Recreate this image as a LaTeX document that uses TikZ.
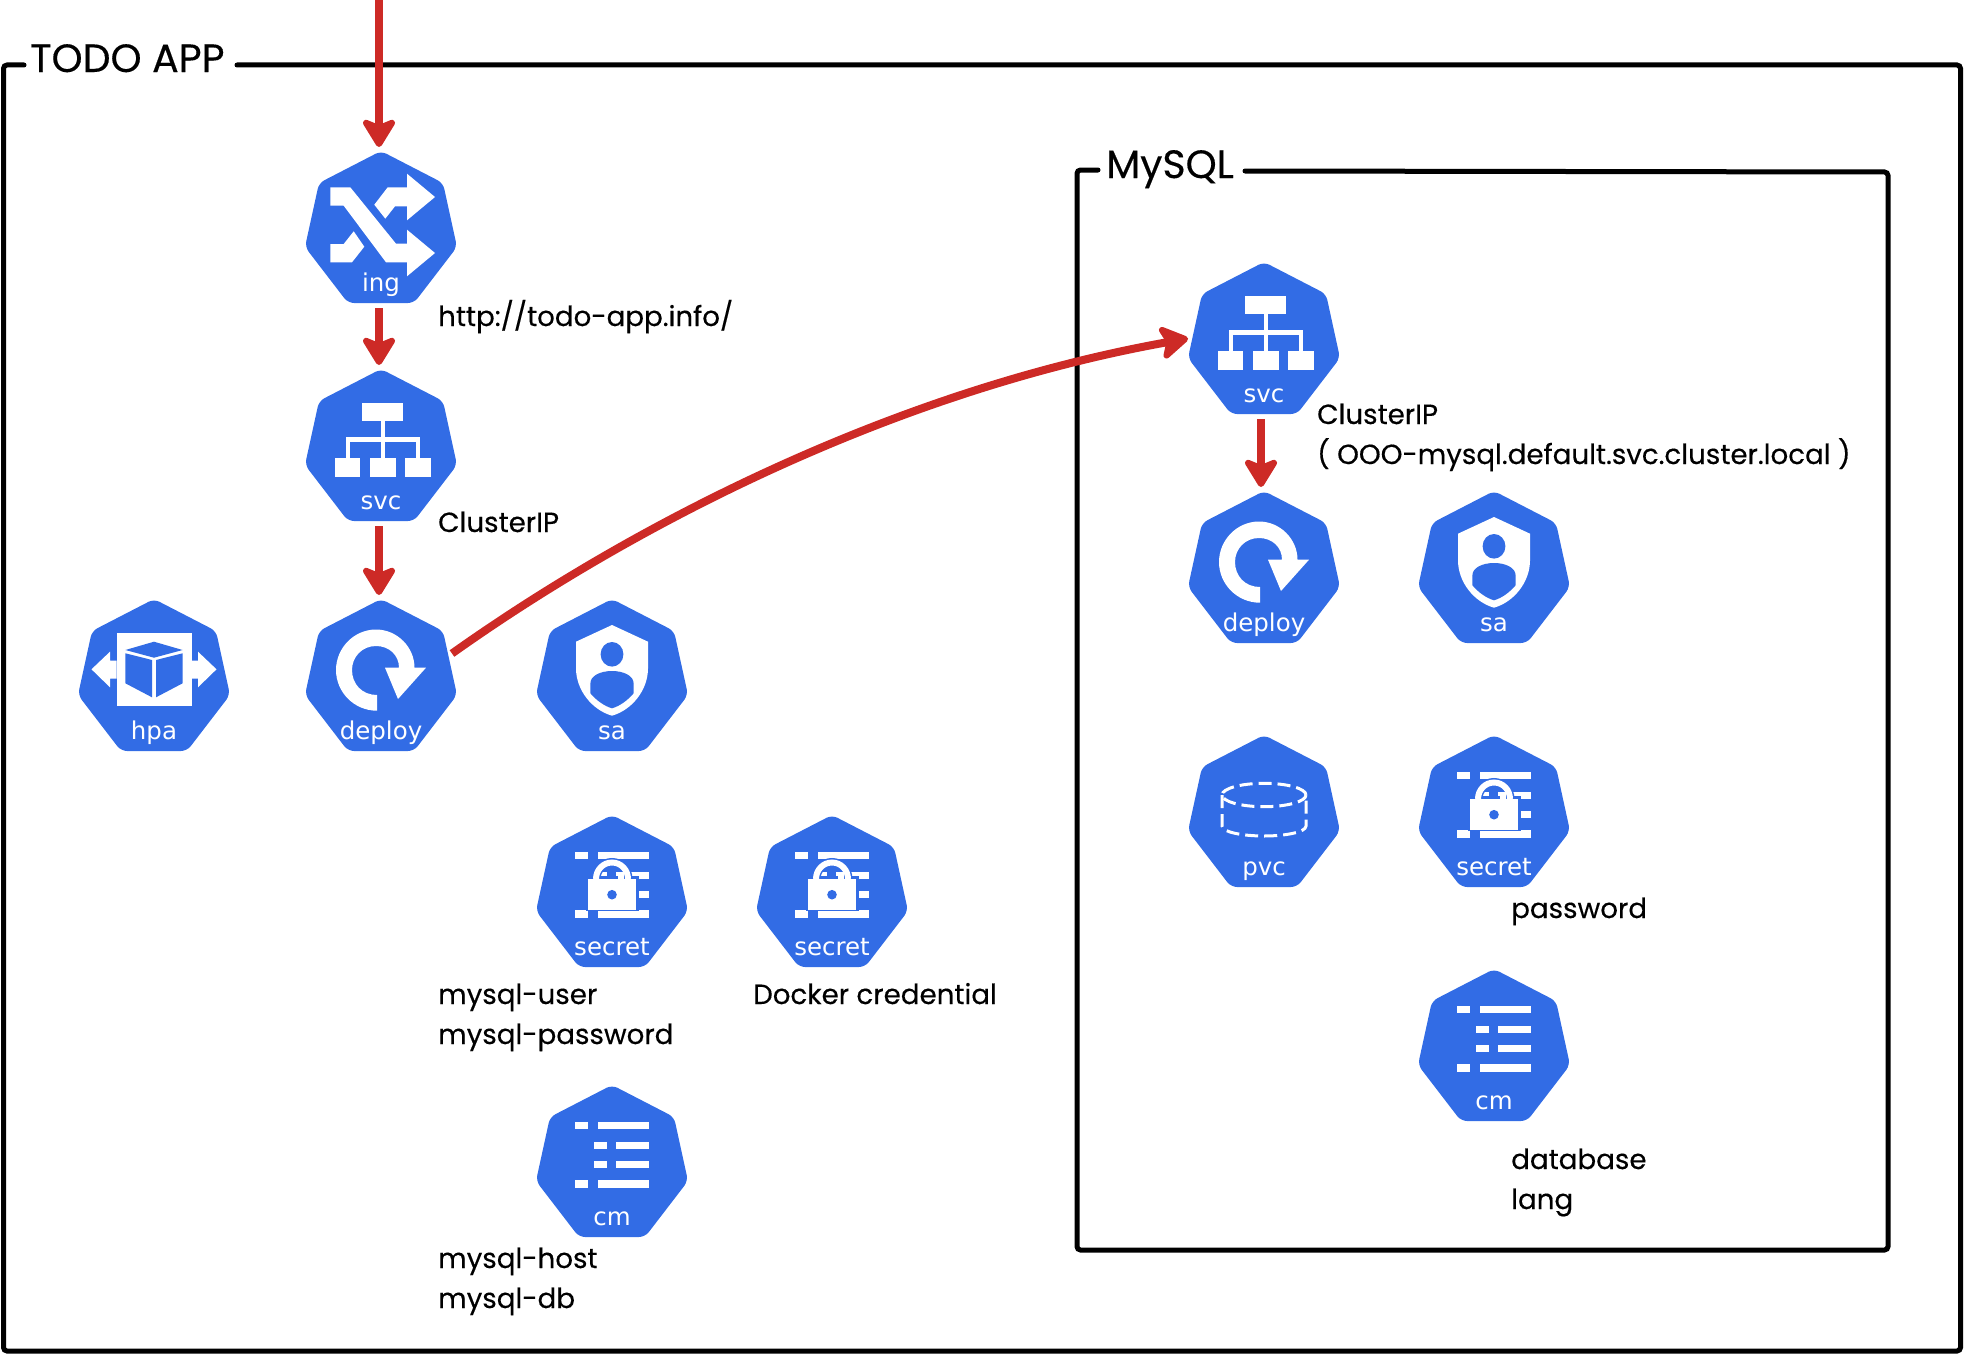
\documentclass[tikz,border=0pt]{standalone}
\usepackage{fontspec}
\setmainfont{Poppins}[FakeBold=0.35]
\newfontfamily\iconfont{DejaVu Sans}
\usetikzlibrary{arrows.meta}
\definecolor{kblue}{HTML}{326CE5}
\definecolor{flowred}{HTML}{CD2A26}
\tikzset{
  heptagon/.style={fill=kblue,rounded corners=6pt},
  iconbox/.style={minimum width=152pt,minimum height=151pt,inner sep=0pt,outer sep=0pt},
  iconlabel/.style={text=white,anchor=base,inner sep=0pt,font=\iconfont\fontsize{24.5}{24.5}\selectfont},
  frame/.style={draw=black,line width=5pt,rounded corners=3.5pt,line cap=round},
  flow/.style={draw=flowred,line width=8pt,-{Stealth[length=33pt,width=40pt,inset=8pt,round]},shorten >=5pt,shorten <=5pt},
  note/.style={anchor=base west,inner sep=0pt,align=left,font=\fontsize{27.7}{40}\selectfont},
  title/.style={anchor=base west,inner sep=0pt,font=\fontsize{39.5}{40}\selectfont},
}
\newcommand\glyphing{%
  \fill[white] (-50.7,35.3)--(-30.7,35.3)--(15,91.7)--(26,91.7)--(26,77.7)--(54,101)--(26,124.3)--(26,110.3)--(5,110.3)--(-37.3,53.7)--(-50.7,53.7)--cycle;
  \fill[white] (-6.7,52.7)--(6.7,35.3)--(26,35.3)--(26,21.7)--(54,45)--(26,68.3)--(26,54.3)--(14,54.3)--(4.3,66.7)--cycle;
  \fill[white] (-50.7,92)--(-37.3,92)--(-27.3,79.3)--(-16.7,94.7)--(-29,110.3)--(-50.7,110.3)--cycle;
}
\newcommand\glyphsvc{%
  \fill[white] (-19,33.3) rectangle (22,51.3);
  \fill[white] (0,51.3) rectangle (4.3,90);
  \fill[white] (-35,67.3) rectangle (39.3,71.7);
  \fill[white] (-35,67.3) rectangle (-31,90);
  \fill[white] (35,67.3) rectangle (39.3,90);
  \fill[white] (-46,88.3) rectangle (-20.7,106.7);
  \fill[white] (-11,88.3) rectangle (14.7,106.7);
  \fill[white] (24,88.3) rectangle (50,106.7);
}
\newcommand\glyphdeploy{%
  \fill[white] (-4,110.7) .. controls (-27,110.7) and (-45,92) .. (-45,70)
    .. controls (-45,48) and (-27,29.5) .. (-5,29.5)
    .. controls (16,29.5) and (33.5,47) .. (33.5,67.7)
    -- (45,67.7) -- (17,99) -- (4,67.7) -- (18,67.7)
    .. controls (18,55) and (8,46) .. (-5,46)
    .. controls (-19,46) and (-29,57) .. (-29,70)
    .. controls (-29,84) and (-19,95) .. (-4,95) -- cycle;
}
\newcommand\glyphhpa{%
  \fill[white] (-37.5,32.7) rectangle (37.5,106);
  \fill[white] (-37.5,60.7)--(-44,60.7)--(-44,51.7)--(-62.5,69.3)--(-44,87.3)--(-44,78.7)--(-37.5,78.7)--cycle;
  \fill[white] (37.5,60.7)--(44,60.7)--(44,51.7)--(62.5,69.3)--(44,87.3)--(44,78.7)--(37.5,78.7)--cycle;
  \fill[kblue] (0,41.7)--(28.6,50)--(0,57.7)--(-28.6,50)--cycle;
  \fill[kblue] (-28.6,53.3)--(-2,60)--(-2,97.3)--(-28.6,83.3)--cycle;
  \fill[kblue] (28.6,53.3)--(2,60)--(2,97.3)--(28.6,83.3)--cycle;
}
\newcommand\glyphsa{%
  \fill[white] (0,25)--(36,41.7)--(36,68.3) .. controls (36,90) and (20,110) .. (0,115.7)
    .. controls (-20,110) and (-36,90) .. (-36,68.3) -- (-36,41.7) -- cycle;
  \fill[kblue] (0,54.3) ellipse (11.4pt and 12.3pt);
  \fill[kblue] (0,71) .. controls (12,71) and (21.6,76) .. (21.6,83.3) -- (21.6,93.3)
    .. controls (16,100) and (8,106) .. (0,108.3)
    .. controls (-8,106) and (-16,100) .. (-21.6,93.3) -- (-21.6,83.3)
    .. controls (-21.6,76) and (-12,71) .. (0,71) -- cycle;
}
\newcommand\glyphrows{%
  \fill[white] (-36.7,36.3) rectangle (-23.7,43.3);
  \fill[white] (-14.3,36.3) rectangle (37.3,43.3);
  \fill[white] (-18,55.7) rectangle (-4.7,62.7);
  \fill[white] (4.3,55.7) rectangle (37.3,62.7);
  \fill[white] (-18,75) rectangle (-4.7,82);
  \fill[white] (4.3,75) rectangle (37.3,82);
  \fill[white] (-36.7,94.3) rectangle (-23.7,101.7);
  \fill[white] (-14.3,94.3) rectangle (37.3,101.7);
}
\newcommand\glyphsecret{%
  \glyphrows
  \fill[kblue] (-26,60) rectangle (26.5,95);
  \draw[kblue,line width=9pt] (-16,63) .. controls (-16,54) and (-9,46.5) .. (0,46.5) .. controls (9,46.5) and (16,54) .. (16,63);
  \fill[white] (6,55.7) rectangle (12,62.7);
  \draw[white,line width=6pt] (-16,63) .. controls (-16,54) and (-9,46.5) .. (0,46.5) .. controls (9,46.5) and (16,54) .. (16,63);
  \fill[white] (-23.7,63) rectangle (24.3,94);
  \fill[kblue] (0,78.7) circle (4.8pt);
}
\newcommand\glyphpvc{%
  \draw[white,line width=3pt,dash pattern=on 13pt off 6pt] (0,59) ellipse (42pt and 11.7pt);
  \draw[white,line width=3pt,dash pattern=on 13pt off 6pt] (-42,59) -- (-42,90) .. controls (-42,96) and (-22,100) .. (0,100) .. controls (22,100) and (42,96) .. (42,90) -- (42,59);
}
% #1 name, #2 x centre, #3 y of top vertex, #4 glyph, #5 label
\newcommand\kubeicon[5]{%
  \begin{scope}[shift={(#2,#3)}]
    \fill[heptagon] (0,-1)--(62,31)--(76,95)--(33,151)--(-33,151)--(-76,95)--(-62,31)--cycle;
    #4
    \node[iconbox] (#1) at (0,75.5) {};
    \node[iconlabel] (#1-label) at (0,139) {#5};
  \end{scope}
}
\begin{document}
\begin{tikzpicture}[x=1pt,y=-1pt]
\useasboundingbox (0,0) rectangle (1964,1354);
% frames
\draw[frame] (24,65)--(3.5,65)--(3.5,1351)--(1960.5,1351)--(1960.5,65)--(237,65);
\draw[frame] (1098,170)--(1077,170)--(1077,1250)--(1888,1250)--(1888,172)--(1245,171);
\node[title] (todotitle) at (30,72) {TODO APP};
\node[title] (mysqltitle) at (1106,178) {MySQL};
% icons
\kubeicon{ing}{381}{152}{\glyphing}{ing}
\kubeicon{svc}{381}{370}{\glyphsvc}{svc}
\kubeicon{deploy}{381}{600}{\glyphdeploy}{deploy}
\kubeicon{hpa}{154}{600}{\glyphhpa}{hpa}
\kubeicon{sa}{612}{600}{\glyphsa}{sa}
\kubeicon{secret}{612}{816}{\glyphsecret}{secret}
\kubeicon{dockersecret}{832}{816}{\glyphsecret}{secret}
\kubeicon{cm}{612}{1086}{\glyphrows}{cm}
\kubeicon{dbsvc}{1264}{263}{\glyphsvc}{svc}
\kubeicon{dbdeploy}{1264}{492}{\glyphdeploy}{deploy}
\kubeicon{dbsa}{1494}{492}{\glyphsa}{sa}
\kubeicon{dbpvc}{1264}{736}{\glyphpvc}{pvc}
\kubeicon{dbsecret}{1494}{736}{\glyphsecret}{secret}
\kubeicon{dbcm}{1494}{970}{\glyphrows}{cm}
% notes (base anchor of a two-line note is its last line)
\node[note] (n1) at (438,326) {http://todo-app.info/};
\node[note] (n2) at (438,532) {ClusterIP};
\node[note] (n3) at (438,1044) {mysql-user\\mysql-password};
\node[note] (n4) at (753,1004) {Docker credential};
\node[note] (n5) at (438,1308) {mysql-host\\mysql-db};
\node[note] (n6) at (1317,464) {ClusterIP\\( OOO-mysql.default.svc.cluster.local )};
\node[note] (n7) at (1511,918) {password};
\node[note] (n8) at (1511,1209) {database\\lang};
% connectors
\coordinate (entry) at (379,0);
\draw[flow,shorten <=0pt] (entry) -- ([xshift=-2pt]ing.north);
\draw[flow] ([xshift=-2pt]ing.south) -- ([xshift=-2pt]svc.north);
\draw[flow] ([xshift=-2pt]svc.south) -- ([xshift=-2pt]deploy.north);
\draw[flow] ([xshift=-3pt]dbsvc.south) -- ([xshift=-3pt]dbdeploy.north);
\draw[flow,shorten <=0pt,shorten >=0pt] ([xshift=-5pt,yshift=22pt]deploy.east) .. controls (640,520) and (900,390) .. (dbsvc.west);
\end{tikzpicture}
\end{document}
